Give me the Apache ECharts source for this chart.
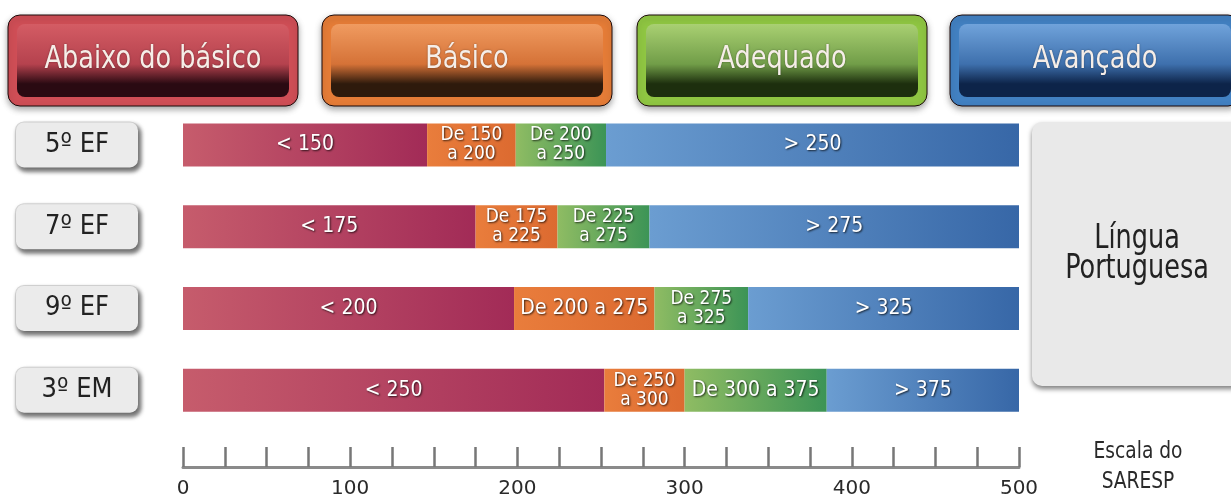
<!DOCTYPE html>
<html>
<head>
<meta charset="utf-8">
<script src="https://cdn.jsdelivr.net/npm/echarts@6/dist/echarts.min.js"></script>
<style>
  html, body { margin: 0; padding: 0; background: #fff; }
  #chart { width: 1231px; height: 499px; }
</style>
</head>
<body>
<div id="chart"></div>
<script>
// séries / anos
const series = ["5º EF", "7º EF", "9º EF", "3º EM"];
// fim de cada faixa (escala SARESP)
const fimAbaixo = [146, 175, 198, 252];
const fimBasico = [199, 224, 282, 300];
const fimAdequado = [253, 279, 338, 385];
const escalaMax = 500;
// textos das faixas
const txtAbaixo = ["< 150", "< 175", "< 200", "< 250"];
const txtBasico = ["De 150\na 200", "De 175\na 225", "De 200 a 275", "De 250\na 300"];
const txtAdequado = ["De 200\na 250", "De 225\na 275", "De 275\na 325", "De 300 a 375"];
const txtAvancado = ["> 250", "> 275", "> 325", "> 375"];
const niveis = ["Abaixo do básico", "Básico", "Adequado", "Avançado"];
const tickLabels = [0, 100, 200, 300, 400, 500];

const FONT = "'DejaVu Sans Condensed', 'DejaVu Sans', sans-serif";
const FONT_AXIS = "'DejaVu Sans', sans-serif";

const chart = echarts.init(document.getElementById("chart"));

function grad(c0, c1) {
  return new echarts.graphic.LinearGradient(0, 0, 1, 0, [
    { offset: 0, color: c0 },
    { offset: 1, color: c1 },
  ]);
}

function labelCfg(texts) {
  return {
    show: true,
    position: "inside",
    color: "#fff",
    fontFamily: FONT,
    fontSize: 21,
    textShadowColor: "rgba(0,0,0,0.75)",
    textShadowBlur: 2,
    textShadowOffsetX: 1,
    textShadowOffsetY: 1,
    formatter: (p) => {
      const t = texts[p.dataIndex];
      return t.indexOf("\n") >= 0 ? "{s|" + t.replace("\n", "}\n{s|") + "}" : t;
    },
    rich: {
      s: {
        fontSize: 19, lineHeight: 19, color: "#fff", fontFamily: FONT,
        textShadowColor: "rgba(0,0,0,0.75)", textShadowBlur: 2,
        textShadowOffsetX: 1, textShadowOffsetY: 1,
      },
    },
  };
}

const dAbaixo = fimAbaixo.slice();
const dBasico = fimBasico.map((v, i) => v - fimAbaixo[i]);
const dAdequado = fimAdequado.map((v, i) => v - fimBasico[i]);
const dAvancado = fimAdequado.map((v) => escalaMax - v);

// botões do topo
const botoes = [
  { x: 8, ring: "#cf4e56", top: "#d45c64", mid: "#b5424e", bot: "#2a0a12" },
  { x: 322, ring: "#e57c37", top: "#f09b60", mid: "#d57237", bot: "#2e1a0c" },
  { x: 637, ring: "#8fc642", top: "#a9d072", mid: "#719d48", bot: "#1d2f0e" },
  { x: 950, ring: "#4281c2", top: "#70a3db", mid: "#3e70ad", bot: "#0d2449" },
];
const graphics = [];
botoes.forEach((b, i) => {
  const w = 290, h = 91, y = 15;
  graphics.push({
    type: "rect",
    shape: { x: b.x, y: y, width: w, height: h, r: 12 },
    style: {
      fill: b.ring,
      stroke: "#1c0a0a",
      lineWidth: 1,
      shadowColor: "rgba(0,0,0,0.35)",
      shadowBlur: 6,
      shadowOffsetY: 3,
    },
  });
  graphics.push({
    type: "rect",
    shape: { x: b.x + 9, y: y + 9, width: w - 18, height: h - 18, r: 8 },
    style: {
      fill: new echarts.graphic.LinearGradient(0, 0, 0, 1, [
        { offset: 0, color: b.top },
        { offset: 0.55, color: b.mid },
        { offset: 0.82, color: b.bot },
        { offset: 1, color: b.bot },
      ]),
    },
  });
  graphics.push({
    type: "text",
    x: b.x + w / 2,
    y: y + 45,
    scaleX: 0.89,
    style: {
      text: niveis[i],
      fill: "#f6eee8",
      font: "32px " + FONT,
      textAlign: "center",
      textVerticalAlign: "middle",
      textShadowColor: "rgba(0,0,0,0.4)",
      textShadowBlur: 2,
    },
  });
});
// painel à direita
graphics.push({
  type: "rect",
  shape: { x: 1032, y: 122, width: 210, height: 264, r: 10 },
  style: {
    fill: "#e9e9e9",
    shadowColor: "rgba(0,0,0,0.5)",
    shadowBlur: 5,
    shadowOffsetY: 3,
  },
});
graphics.push({
  type: "text",
  x: 1137,
  y: 254,
  scaleX: 0.86,
  style: {
    text: "Língua\nPortuguesa",
    fill: "#222",
    font: "33px " + FONT,
    lineHeight: 30,
    textAlign: "center",
    textVerticalAlign: "middle",
  },
});
graphics.push({
  type: "text",
  x: 1138,
  y: 467,
  scaleX: 0.9,
  style: {
    text: "Escala do\nSARESP",
    fill: "#2a2a2a",
    font: "23px " + FONT,
    lineHeight: 30,
    textAlign: "center",
    textVerticalAlign: "middle",
  },
});

chart.setOption({
  animation: false,
  backgroundColor: "#fff",
  grid: { left: 183, right: 212, top: 104, height: 329, containLabel: false },
  xAxis: {
    type: "value",
    min: 0,
    max: escalaMax,
    interval: 25,
    offset: 36,
    splitLine: { show: false },
    axisLine: { show: true, lineStyle: { color: "#8a8a8a", width: 3 } },
    axisTick: { show: true, inside: true, length: 20, lineStyle: { color: "#777", width: 2.5 } },
    axisLabel: {
      margin: 12,
      color: "#2a2a2a",
      fontSize: 20,
      fontFamily: FONT_AXIS,
      formatter: (v) => (tickLabels.indexOf(v) >= 0 ? String(v) : ""),
    },
  },
  yAxis: {
    type: "category",
    inverse: true,
    data: series,
    axisLine: { show: false },
    axisTick: { show: false },
    axisLabel: {
      margin: 45,
      formatter: (v) => "{b|" + v + "}",
      rich: {
        b: {
          color: "#222",
          fontSize: 27,
          fontFamily: FONT,
          width: 122,
          height: 45,
          align: "center",
          verticalAlign: "middle",
          backgroundColor: "#ebebeb",
          borderRadius: 8,
          borderColor: "#d6d6d6",
          borderWidth: 1,
          shadowColor: "rgba(0,0,0,0.55)",
          shadowBlur: 4,
          shadowOffsetX: 2,
          shadowOffsetY: 3,
        },
      },
    },
  },
  series: [
    { name: niveis[0], type: "bar", stack: "s", barWidth: 43, data: dAbaixo,
      itemStyle: { color: grad("#c65c6c", "#a22b57") }, label: labelCfg(txtAbaixo) },
    { name: niveis[1], type: "bar", stack: "s", data: dBasico,
      itemStyle: { color: grad("#e97d3c", "#dc6a30") }, label: labelCfg(txtBasico) },
    { name: niveis[2], type: "bar", stack: "s", data: dAdequado,
      itemStyle: { color: grad("#8fbc63", "#3c9456") }, label: labelCfg(txtAdequado) },
    { name: niveis[3], type: "bar", stack: "s", data: dAvancado,
      itemStyle: { color: grad("#6b9dd1", "#3767a7") }, label: labelCfg(txtAvancado) },
  ],
  graphic: graphics,
});
</script>
</body>
</html>
